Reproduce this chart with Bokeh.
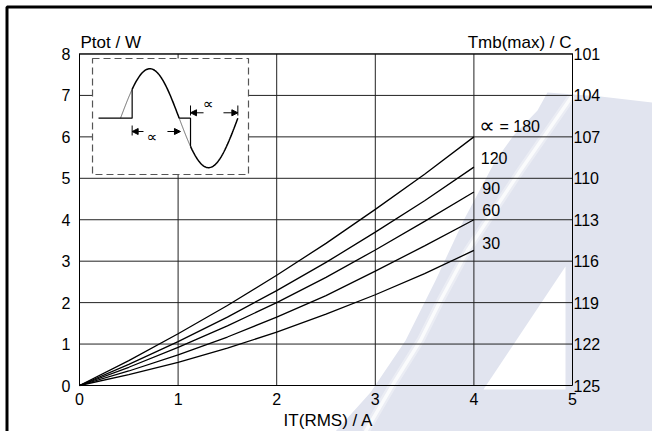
import numpy as np
from bokeh.plotting import figure
from bokeh.models import Range1d, LinearAxis, FixedTicker, Arrow, NormalHead
from bokeh.core.properties import value
from bokeh.embed import file_html
from bokeh.resources import INLINE

# ---------------- data ----------------
IT_RMS = [0, 0.5, 1.0, 1.5, 2.0, 2.5, 3.0, 3.5, 4.0]
P_180 = [0, 0.60, 1.25, 1.93, 2.66, 3.43, 4.25, 5.10, 6.00]
P_120 = [0, 0.51, 1.06, 1.65, 2.29, 2.97, 3.70, 4.46, 5.27]
P_90 = [0, 0.44, 0.92, 1.44, 2.00, 2.61, 3.27, 3.96, 4.67]
P_60 = [0, 0.35, 0.74, 1.17, 1.65, 2.17, 2.76, 3.37, 4.00]
P_30 = [0, 0.26, 0.56, 0.90, 1.29, 1.72, 2.19, 2.70, 3.26]
ALPHA_SYMBOL = "\u221d"
CURVE_LABELS = ["= 180", "120", "90", "60", "30"]
X_TICKS = [0, 1, 2, 3, 4, 5]
P_TICKS = [0, 1, 2, 3, 4, 5, 6, 7, 8]
TMB_TICKS = [101, 104, 107, 110, 113, 116, 119, 122, 125]
TMB_AT_P0 = 125
TMB_PER_W = 3

# ---------------- layout calibration ----------------
W, H = 652, 431
PAGE_MARGIN = 0
X0_PX, PX_PER_X = 79.0, 98.6      # page px of x=0, px per ampere
Y0_PX, PX_PER_Y = 385.0, 41.44    # page px of P=0, px per watt
XS = (PAGE_MARGIN - X0_PX) / PX_PER_X
XE = (PAGE_MARGIN + W - X0_PX) / PX_PER_X
YE = (Y0_PX - PAGE_MARGIN) / PX_PER_Y
YS = (Y0_PX - PAGE_MARGIN - H) / PX_PER_Y

FONT = "Liberation Sans"

p = figure(width=W, height=H, x_range=Range1d(XS, XE), y_range=Range1d(YS, YE),
           output_backend="svg", toolbar_location=None, min_border=0,
           x_axis_type=None, y_axis_type=None)
p.outline_line_color = None
p.background_fill_color = "white"
p.border_fill_color = "white"
p.extra_y_ranges = {"tmb": Range1d(start=TMB_AT_P0 - TMB_PER_W * YS,
                                   end=TMB_AT_P0 - TMB_PER_W * YE)}

# ---------------- watermark (background decoration) ----------------
WM_X = [4.746, 5.284, 5.892, 5.892, 2.546, 2.596, 2.951, 3.307, 3.611, 3.895, 4.219, 4.402, 4.645]
WM_Y = [7.070, 6.974, 6.805, -1.40, -1.40, -1.110, -0.169, 1.086, 2.534, 3.982, 5.430, 6.033, 6.636]
p.patch(WM_X, WM_Y, fill_color="#e1e4ef", line_color=None)
STREAK_X = [5.000, 4.473, 3.935, 3.661, 3.458, 3.185, 2.901]
STREAK_Y = [6.998, 5.188, 3.258, 2.051, 1.086, 0.048, -1.110]
p.line(STREAK_X, STREAK_Y, line_color="white", line_width=8, line_alpha=0.35)
p.line(STREAK_X, STREAK_Y, line_color="white", line_width=3.5, line_alpha=0.75)
TRI_X = [4.097, 4.929, 4.929]
TRI_Y = [-0.097, -0.097, 2.872]
p.patch(TRI_X, TRI_Y, fill_color="white", line_color=None)

# ---------------- grid ----------------
GRID_COLOR = "#222222"
p.segment(x0=X_TICKS[1:-1], y0=[P_TICKS[0]] * 4, x1=X_TICKS[1:-1], y1=[P_TICKS[-1]] * 4,
          line_color=GRID_COLOR, line_width=1)
p.segment(x0=[X_TICKS[0]] * 8, y0=P_TICKS[1:], x1=[X_TICKS[-1]] * 8, y1=P_TICKS[1:],
          line_color=GRID_COLOR, line_width=1)

# ---------------- inset (waveform schematic) ----------------
INSET_LEFT, INSET_RIGHT, INSET_BOTTOM, INSET_TOP = 0.132, 1.714, 5.092, 7.891
p.quad(left=[INSET_LEFT], right=[INSET_RIGHT], bottom=[INSET_BOTTOM], top=[INSET_TOP],
       fill_color="white", line_color="#555555", line_width=1.2, line_dash="7 4")

WAVE_X0, WAVE_HALF, WAVE_BASE, WAVE_AMP = 0.416, 0.595, 6.450, 1.194
FIRE1, FIRE2 = 0.623, np.pi + 0.607


def wave(t0, t1):
    t = np.linspace(t0, t1, 60)
    return WAVE_X0 + t / np.pi * WAVE_HALF, WAVE_BASE + WAVE_AMP * np.sin(t)


for (a, b, lw, col) in [(0, FIRE1, 0.8, "#444444"), (FIRE1, np.pi, 1.5, "black"),
                        (np.pi, FIRE2, 0.8, "#444444"), (FIRE2, 2 * np.pi, 1.5, "black")]:
    wx, wy = wave(a, b)
    p.line(wx, wy, line_color=col, line_width=lw)

fx1 = WAVE_X0 + FIRE1 / np.pi * WAVE_HALF
fx2 = WAVE_X0 + FIRE2 / np.pi * WAVE_HALF
zx = WAVE_X0 + WAVE_HALF
wend = WAVE_X0 + 2 * WAVE_HALF
fy1 = WAVE_BASE + WAVE_AMP * np.sin(FIRE1)
fy2 = WAVE_BASE + WAVE_AMP * np.sin(FIRE2)
# off-state baseline and firing steps
p.line([0.193, fx1, fx1], [WAVE_BASE, WAVE_BASE, fy1], line_color="black", line_width=1.2)
p.line([zx, fx2, fx2], [WAVE_BASE, WAVE_BASE, fy2], line_color="black", line_width=1.2)

ROW1, ROW2 = 6.129, 6.581
p.segment(x0=[fx1, fx2, wend], y0=[6.033, 6.515, 6.515], x1=[fx1, fx2, wend], y1=[6.274, 6.757, 6.757],
          line_color="black", line_width=1)
for (xs_, xe_, yy) in [(0.649, fx1, ROW1), (0.892, 1.024, ROW1), (1.258, fx2, ROW2), (1.460, wend, ROW2)]:
    p.add_layout(Arrow(x_start=xs_, y_start=yy, x_end=xe_, y_end=yy, line_width=1, line_color="black",
                       end=NormalHead(size=6, fill_color="black", line_color="black")))
p.text(x=[0.737, 1.308], y=[5.99, 6.79], text=[ALPHA_SYMBOL, ALPHA_SYMBOL], text_font=value("DejaVu Sans"),
       text_font_size="15px", text_align="center", text_baseline="middle", text_color="black")

# ---------------- curves ----------------
for series in [P_180, P_120, P_90, P_60, P_30]:
    p.line(IT_RMS, series, line_color="black", line_width=1.3)

LABEL_X = [4.260, 4.07, 4.085, 4.085, 4.085]
LABEL_Y = [6.257, 5.49, 4.76, 4.24, 3.43]
p.text(x=LABEL_X, y=LABEL_Y, text=CURVE_LABELS, text_font=value(FONT), text_font_size="16px",
       text_align="left", text_baseline="middle", text_color="black")
p.text(x=[4.055], y=[6.27], text=[ALPHA_SYMBOL], text_font=value("DejaVu Sans"), text_font_size="22px",
       text_align="left", text_baseline="middle", text_color="black")

# ---------------- axes ----------------
def style_axis(ax, standoff):
    ax.axis_line_color = "black"
    ax.axis_line_width = 1
    ax.major_tick_in = 0
    ax.major_tick_out = 0
    ax.minor_tick_line_color = None
    ax.major_label_text_font = FONT
    ax.major_label_text_font_size = "16px"
    ax.major_label_text_color = "black"
    ax.major_label_standoff = standoff


left = LinearAxis(fixed_location=X_TICKS[0], bounds=(P_TICKS[0], P_TICKS[-1]),
                  ticker=FixedTicker(ticks=P_TICKS))
style_axis(left, 9)
p.add_layout(left, "left")

bottom = LinearAxis(fixed_location=P_TICKS[0], bounds=(X_TICKS[0], X_TICKS[-1]),
                    ticker=FixedTicker(ticks=X_TICKS))
style_axis(bottom, 7)
p.add_layout(bottom, "below")

right = LinearAxis(y_range_name="tmb", fixed_location=X_TICKS[-1],
                   bounds=(TMB_TICKS[0], TMB_TICKS[-1]), ticker=FixedTicker(ticks=TMB_TICKS))
style_axis(right, 1)
p.add_layout(right, "right")

# top frame line
p.line([X_TICKS[0], X_TICKS[-1]], [P_TICKS[-1], P_TICKS[-1]], line_color="black", line_width=1)

# axis titles
p.text(x=[0.01], y=[8.277], text=["Ptot / W"], text_font=value(FONT), text_font_size="17px",
       text_align="left", text_baseline="middle", text_color="black")
p.text(x=[4.99], y=[8.277], text=["Tmb(max) / C"], text_font=value(FONT), text_font_size="17px",
       text_align="right", text_baseline="middle", text_color="black")
p.text(x=[2.525], y=[-0.835], text=["IT(RMS) / A"], text_font=value(FONT), text_font_size="17px",
       text_align="center", text_baseline="middle", text_color="black")

# outer border (top and left edges), centred on page px 6.5
bx = (6.5 - X0_PX) / PX_PER_X
by = (Y0_PX - 6.5) / PX_PER_Y
p.line([bx, bx, XE], [YS, by, by], line_color="black", line_width=3)

open("out.html", "w").write(file_html(p, INLINE))
